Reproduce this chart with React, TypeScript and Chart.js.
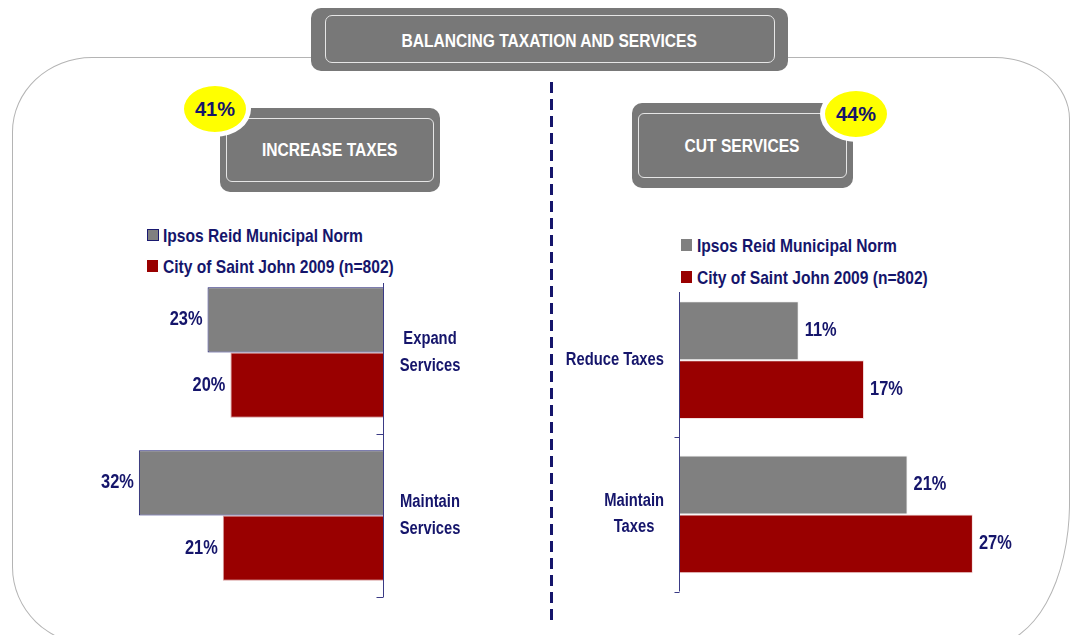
import React, { useEffect, useRef } from "react";
import { Chart, registerables } from "chart.js";

Chart.register(...registerables);

const FONT = '"Liberation Sans", Arial, sans-serif';
const SX = 0.82; // horizontal compression to mimic a narrow face
const NAVY = "#15156b";
const GRAY = "#808080";
const RED = "#990000";
const BOX = "#787878";

const titleText = "BALANCING TAXATION AND SERVICES";
const seriesNames = ["Ipsos Reid Municipal Norm", "City of Saint John 2009 (n=802)"];

const leftHeading = "INCREASE TAXES";
const leftTotal = "41%";
const leftCategories = [["Expand", "Services"], ["Maintain", "Services"]];
const leftNorm = [23, 32];
const leftCity = [20, 21];

const rightHeading = "CUT SERVICES";
const rightTotal = "44%";
const rightCategories = [["Reduce Taxes"], ["Maintain", "Taxes"]];
const rightNorm = [11, 21];
const rightCity = [17, 27];

const axisMax = 35;

function narrowText(ctx: CanvasRenderingContext2D, text: string, x: number, y: number, align: "left" | "right" | "center") {
  const w = ctx.measureText(text).width * SX;
  let sx = x;
  if (align === "right") sx = x - w;
  else if (align === "center") sx = x - w / 2;
  ctx.save();
  ctx.translate(sx, y);
  ctx.scale(SX, 1);
  ctx.textAlign = "left";
  ctx.fillText(text, 0, 0);
  ctx.restore();
}

const valueLabels = {
  id: "valueLabels",
  afterDatasetsDraw(chart: any, _args: any, opts: any) {
    const ctx = chart.ctx;
    ctx.save();
    ctx.font = `bold ${opts.size}px ${FONT}`;
    ctx.fillStyle = NAVY;
    ctx.textBaseline = "middle";
    chart.data.datasets.forEach((ds: any, di: number) => {
      const meta = chart.getDatasetMeta(di);
      meta.data.forEach((bar: any, i: number) => {
        const text = ds.data[i] + "%";
        if (opts.side === "left") narrowText(ctx, text, bar.x - opts.gap, bar.y, "right");
        else narrowText(ctx, text, bar.x + opts.gap, bar.y, "left");
      });
    });
    ctx.restore();
  },
};

const axisDecor = {
  id: "axisDecor",
  afterDraw(chart: any, _args: any, opts: any) {
    const { ctx, chartArea } = chart;
    const ys = chart.scales.y;
    const x = Math.round(opts.atRight ? chartArea.right : chartArea.left) + 0.5;
    ctx.save();
    ctx.strokeStyle = opts.color;
    ctx.lineWidth = 1;
    ctx.beginPath();
    ctx.moveTo(x, chartArea.top + opts.topInset);
    ctx.lineTo(x, chartArea.bottom);
    const n = ys.ticks.length;
    const half = n > 1 ? (ys.getPixelForValue(1) - ys.getPixelForValue(0)) / 2 : 0;
    for (let i = 0; i < n; i++) {
      const b = Math.round(ys.getPixelForValue(i) + half) + 0.5;
      ctx.moveTo(x - opts.tickLen, b);
      ctx.lineTo(x, b);
    }
    ctx.stroke();
    ctx.restore();
  },
};

const blockLabels = {
  id: "blockLabels",
  afterDraw(chart: any, _args: any, opts: any) {
    const { ctx, chartArea } = chart;
    const ys = chart.scales.y;
    ctx.save();
    ctx.font = `bold ${opts.size}px ${FONT}`;
    ctx.fillStyle = NAVY;
    ctx.textBaseline = "middle";
    chart.data.labels.forEach((lab: any, i: number) => {
      const lines: string[] = Array.isArray(lab) ? lab : [lab];
      const widest = Math.max(...lines.map((l) => ctx.measureText(l).width * SX));
      const cx = opts.atRight
        ? chartArea.right + opts.gap
        : chartArea.left - opts.gap - widest / 2;
      const cy = ys.getPixelForValue(i);
      lines.forEach((l, j) => {
        narrowText(ctx, l, cx, cy + (j - (lines.length - 1) / 2) * opts.lineHeight, "center");
      });
    });
    ctx.restore();
  },
};

function BarPanel(props: {
  labels: string[][];
  norm: number[];
  city: number[];
  side: "left" | "right";
  style: React.CSSProperties;
  width: number;
  height: number;
}) {
  const ref = useRef<HTMLCanvasElement | null>(null);
  useEffect(() => {
    if (!ref.current) return;
    const isLeft = props.side === "left";
    const chart = new Chart(ref.current, {
      type: "bar",
      data: {
        labels: props.labels as any,
        datasets: [
          {
            label: seriesNames[0],
            data: props.norm,
            backgroundColor: GRAY,
            borderColor: isLeft ? "#1a1a70" : "#f4f4f4",
            borderWidth: 1,
            borderSkipped: "start",
            barPercentage: 1,
            categoryPercentage: isLeft ? 0.8 : 0.764,
          },
          {
            label: seriesNames[1],
            data: props.city,
            backgroundColor: RED,
            borderColor: isLeft ? "#d9a0a0" : "#f4e0e0",
            borderWidth: 1,
            borderSkipped: "start",
            barPercentage: 1,
            categoryPercentage: isLeft ? 0.8 : 0.764,
          },
        ],
      },
      options: {
        indexAxis: "y",
        responsive: false,
        animation: false,
        devicePixelRatio: 1,
        events: [],
        layout: {
          padding: isLeft
            ? { left: 76, right: 0, top: 9, bottom: 10 }
            : { left: 0, right: 10, top: 8, bottom: 13.5 },
        },
        scales: {
          x: {
            display: false,
            min: 0,
            max: axisMax,
            reverse: isLeft,
          },
          y: {
            position: isLeft ? "right" : "left",
            grid: { display: false, drawTicks: false },
            border: { display: false },
            ticks: { display: false },
            afterFit: (scale: any) => {
              scale.width = isLeft ? 97 : 139;
              scale.paddingTop = 0;
              scale.paddingBottom = 0;
            },
          } as any,
        },
        plugins: {
          legend: { display: false },
          tooltip: { enabled: false },
          valueLabels: { side: props.side, gap: isLeft ? 5 : 6, size: 20 },
          axisDecor: {
            atRight: isLeft,
            topInset: isLeft ? 12 : 9,
            tickLen: isLeft ? 7 : 5,
            color: "#3a3a85",
          },
          blockLabels: isLeft
            ? { atRight: true, gap: 47, size: 18, lineHeight: 27 }
            : { atRight: false, gap: 15, size: 18, lineHeight: 26 },
        } as any,
      },
      plugins: [valueLabels, axisDecor, blockLabels],
    });
    return () => chart.destroy();
  }, []);
  return (
    <canvas
      ref={ref}
      width={props.width}
      height={props.height}
      style={{ position: "absolute", ...props.style }}
    />
  );
}

function Narrow(props: { children: React.ReactNode; origin: string }) {
  return (
    <span
      style={{
        display: "inline-block",
        transform: `scaleX(${SX})`,
        transformOrigin: props.origin,
        whiteSpace: "nowrap",
      }}
    >
      {props.children}
    </span>
  );
}

function Legend(props: { left: number; top: number; gap: number; bordered: boolean }) {
  const colors = [GRAY, RED];
  return (
    <>
      {seriesNames.map((name, i) => (
        <div key={name}>
          <div
            style={{
              position: "absolute",
              left: props.left,
              top: props.top + i * props.gap - 6,
              width: props.bordered && i === 0 ? 10 : 11,
              height: props.bordered && i === 0 ? 10 : 12,
              background: colors[i],
              border: props.bordered && i === 0 ? "1px solid #1a1a70" : "none",
            }}
          />
          <div
            style={{
              position: "absolute",
              left: props.left + 16,
              top: props.top + i * props.gap - 10,
              lineHeight: "20px",
              font: `bold 19px ${FONT}`,
              color: NAVY,
              whiteSpace: "nowrap",
            }}
          >
            <Narrow origin="left center">{name}</Narrow>
          </div>
        </div>
      ))}
    </>
  );
}

function HeadBox(props: { left: number; top: number; width: number; height: number; text: string }) {
  return (
    <div
      style={{
        position: "absolute",
        left: props.left,
        top: props.top,
        width: props.width,
        height: props.height,
        background: BOX,
        borderRadius: 10,
        boxSizing: "border-box",
      }}
    >
      <div
        style={{
          position: "absolute",
          left: 6,
          right: 6,
          top: 10,
          bottom: 10,
          border: "1px solid #e6e6e6",
          borderRadius: 6,
        }}
      />
      <div
        style={{
          position: "absolute",
          left: 0,
          right: 0,
          top: 0,
          bottom: 0,
          display: "flex",
          alignItems: "center",
          justifyContent: "center",
          color: "#ffffff",
          font: `bold 19px ${FONT}`,
        }}
      >
        <Narrow origin="center center">{props.text}</Narrow>
      </div>
    </div>
  );
}

function Bubble(props: { cx: number; cy: number; text: string }) {
  const w = 62;
  const h = 46;
  const ring = 5;
  return (
    <div
      style={{
        position: "absolute",
        left: props.cx - w / 2 - ring,
        top: props.cy - h / 2 - ring,
        width: w + 2 * ring,
        height: h + 2 * ring,
        boxSizing: "border-box",
        border: `${ring}px solid #ffffff`,
        borderRadius: "50%",
        background: "#ffff00",
        display: "flex",
        alignItems: "center",
        justifyContent: "center",
        color: NAVY,
        font: `bold 20px ${FONT}`,
      }}
    >
      {props.text}
    </div>
  );
}

export default function App() {
  return (
    <div
      style={{
        position: "absolute",
        left: 0,
        top: 0,
        width: 1075,
        height: 635,
        overflow: "hidden",
        background: "#ffffff",
      }}
    >
      {/* outer frame */}
      <div
        style={{
          position: "absolute",
          left: 12,
          top: 57,
          width: 1058,
          height: 588,
          boxSizing: "border-box",
          border: "1px solid #b4b4b4",
          borderTopLeftRadius: "80px 75px",
          borderTopRightRadius: "75px 62px",
          borderBottomRightRadius: "80px 142px",
          borderBottomLeftRadius: "80px 78px",
        }}
      />
      {/* title */}
      <div
        style={{
          position: "absolute",
          left: 311,
          top: 8,
          width: 477,
          height: 63,
          background: BOX,
          borderRadius: 10,
        }}
      >
        <div
          style={{
            position: "absolute",
            left: 14,
            right: 13,
            top: 7,
            bottom: 8,
            border: "1px solid #e6e6e6",
            borderRadius: 7,
          }}
        />
        <div
          style={{
            position: "absolute",
            left: 0,
            right: 0,
            top: 3,
            bottom: 0,
            display: "flex",
            alignItems: "center",
            justifyContent: "center",
            color: "#ffffff",
            font: `bold 19px ${FONT}`,
          }}
        >
          <Narrow origin="center center">{titleText}</Narrow>
        </div>
      </div>
      {/* dashed divider */}
      <div
        style={{
          position: "absolute",
          left: 550,
          top: 82,
          width: 3,
          height: 540,
          background: `repeating-linear-gradient(to bottom, ${NAVY} 0px, ${NAVY} 11px, transparent 11px, transparent 17px)`,
        }}
      />
      <HeadBox left={220} top={108} width={220} height={84} text={leftHeading} />
      <Bubble cx={215} cy={109} text={leftTotal} />
      <HeadBox left={632} top={103} width={221} height={85} text={rightHeading} />
      <Bubble cx={856} cy={114} text={rightTotal} />

      <Legend left={147} top={235} gap={31} bordered={true} />
      <Legend left={681} top={245} gap={32} bordered={false} />

      <BarPanel
        side="left"
        labels={leftCategories}
        norm={leftNorm}
        city={leftCity}
        width={440}
        height={345}
        style={{ left: 40, top: 262 }}
      />
      <BarPanel
        side="right"
        labels={rightCategories}
        norm={rightNorm}
        city={rightCity}
        width={530}
        height={330}
        style={{ left: 540, top: 275 }}
      />
    </div>
  );
}
